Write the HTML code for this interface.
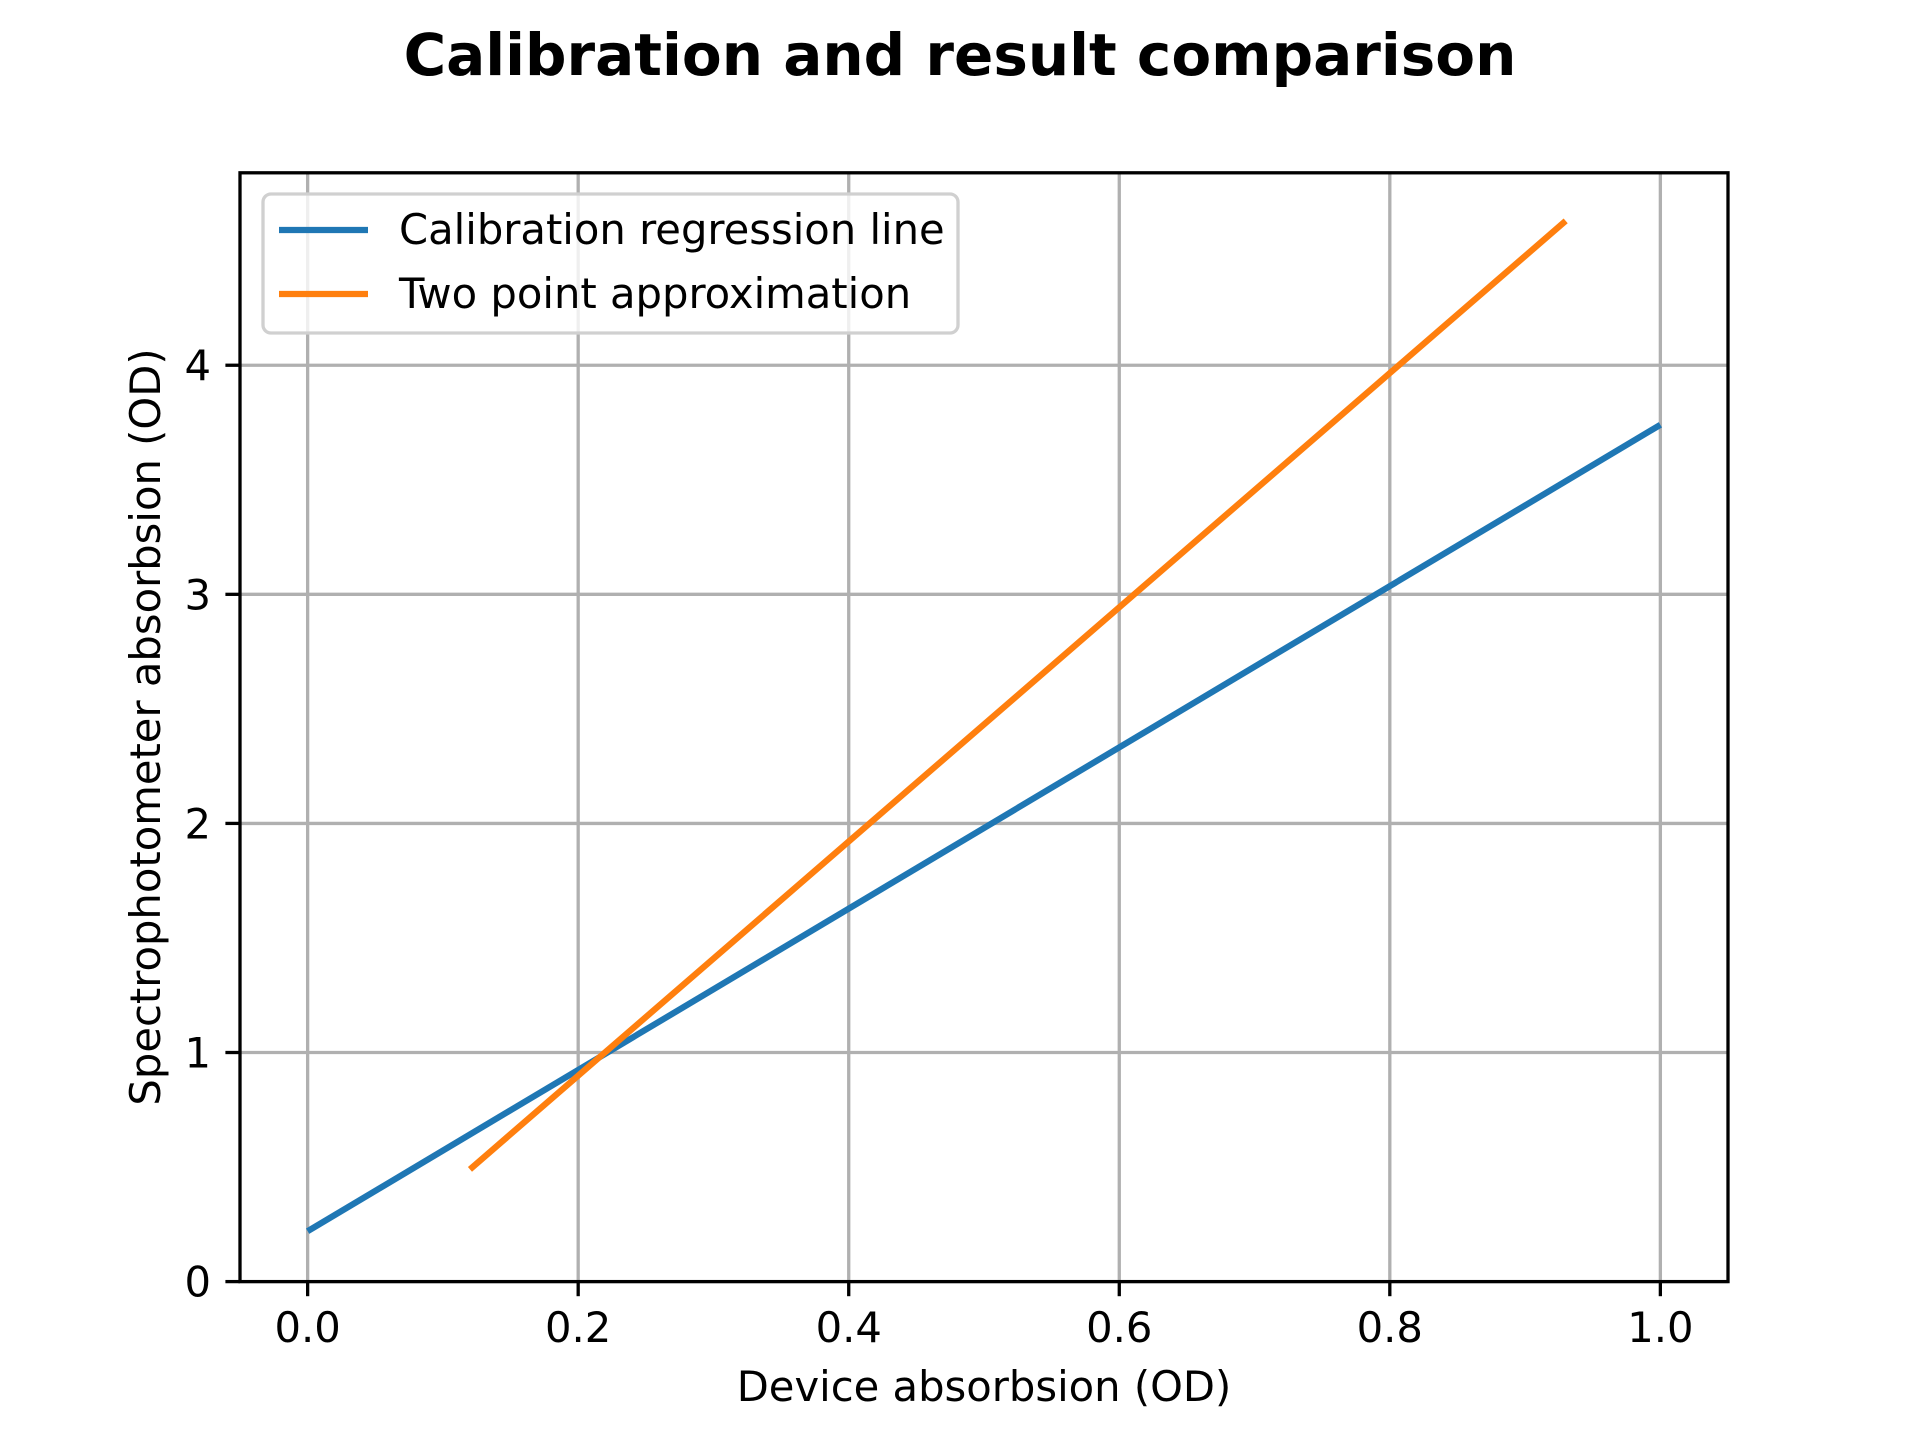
<!DOCTYPE html>
<html><head><meta charset="utf-8"><style>
body{margin:0;background:#fff}
svg text{font-family:"DejaVu Sans","Liberation Sans",sans-serif;fill:#000}
</style></head><body>
<svg id="chart" width="1920" height="1440" xmlns="http://www.w3.org/2000/svg">
<rect width="1920" height="1440" fill="#fff"/>
<text x="960" y="75" font-size="58" font-weight="bold" text-anchor="middle">Calibration and result comparison</text>
<g id="grid"></g>
<g id="series"></g>
<rect x="240" y="172.8" width="1488" height="1108.8" fill="none" stroke="#000" stroke-width="3.3"/>
<g id="ticks"></g>
<text x="984" y="1401" font-size="41.7" text-anchor="middle">Device absorbsion (OD)</text>
<text transform="translate(160,727) rotate(-90)" font-size="41.7" text-anchor="middle">Spectrophotometer absorbsion (OD)</text>
<g>
<rect x="263" y="194" width="695" height="139" rx="8" fill="#fff" fill-opacity="0.8" stroke="#d0d0d0" stroke-width="3.3"/>
<line x1="279" y1="230" x2="368" y2="230" stroke="#1f77b4" stroke-width="6.25"/>
<text x="399" y="244" font-size="41.7">Calibration regression line</text>
<line x1="279" y1="294" x2="368" y2="294" stroke="#ff7f0e" stroke-width="6.25"/>
<text x="399" y="308" font-size="41.7">Two point approximation</text>
</g>
</svg>
<script>
const xTicks=[0,0.2,0.4,0.6,0.8,1.0];
const xTickLabels=["0.0","0.2","0.4","0.6","0.8","1.0"];
const yTicks=[0,1,2,3,4];
const yTickLabels=["0","1","2","3","4"];
const calibX=[0,1];
const calibY=[0.22,3.74];
const twoPointX=[0.12,0.93];
const twoPointY=[0.49,4.63];
const NS="http://www.w3.org/2000/svg";
const L=240,R=1728,T=172.8,B=1281.6,XMIN=-0.05,XMAX=1.05,YMIN=0,YMAX=4.84;
function sx(v){return L+(v-XMIN)/(XMAX-XMIN)*(R-L);}
function sy(v){return B-(v-YMIN)/(YMAX-YMIN)*(B-T);}
function mk(tag,attrs,parent){const e=document.createElementNS(NS,tag);for(const k in attrs)e.setAttribute(k,attrs[k]);parent.appendChild(e);return e;}
const grid=document.getElementById('grid'),ticks=document.getElementById('ticks'),series=document.getElementById('series');
xTicks.forEach((v,i)=>{
 const g=mk('line',{x1:sx(v),x2:sx(v),y1:T,y2:B,stroke:'#b0b0b0','stroke-width':3.3},grid);
 
 
 const t=mk('line',{x1:sx(v),x2:sx(v),y1:B,y2:B+14.6,stroke:'#000','stroke-width':3.3},ticks);
 
 
 const l=mk('text',{x:sx(v),y:1342,'font-size':41.7,'text-anchor':'middle'},ticks);
 l.textContent=xTickLabels[i];
 
 
});
yTicks.forEach((v,i)=>{
 const g=mk('line',{x1:L,x2:R,y1:sy(v),y2:sy(v),stroke:'#b0b0b0','stroke-width':3.3},grid);
 
 
 const t=mk('line',{x1:L-14.6,x2:L,y1:sy(v),y2:sy(v),stroke:'#000','stroke-width':3.3},ticks);
 
 
 const l=mk('text',{x:211,y:sy(v)+15,'font-size':41.7,'text-anchor':'end'},ticks);
 l.textContent=yTickLabels[i];
 
 
});
function line(xs,ys,color,name){
 const p=mk('polyline',{points:xs.map((x,i)=>sx(x)+','+sy(ys[i])).join(' '),fill:'none',stroke:color,'stroke-width':6.25},series);
 
 
}
line(calibX,calibY,'#1f77b4','calibration-regression-line');
line(twoPointX,twoPointY,'#ff7f0e','two-point-approximation-line');
</script>
</body></html>
